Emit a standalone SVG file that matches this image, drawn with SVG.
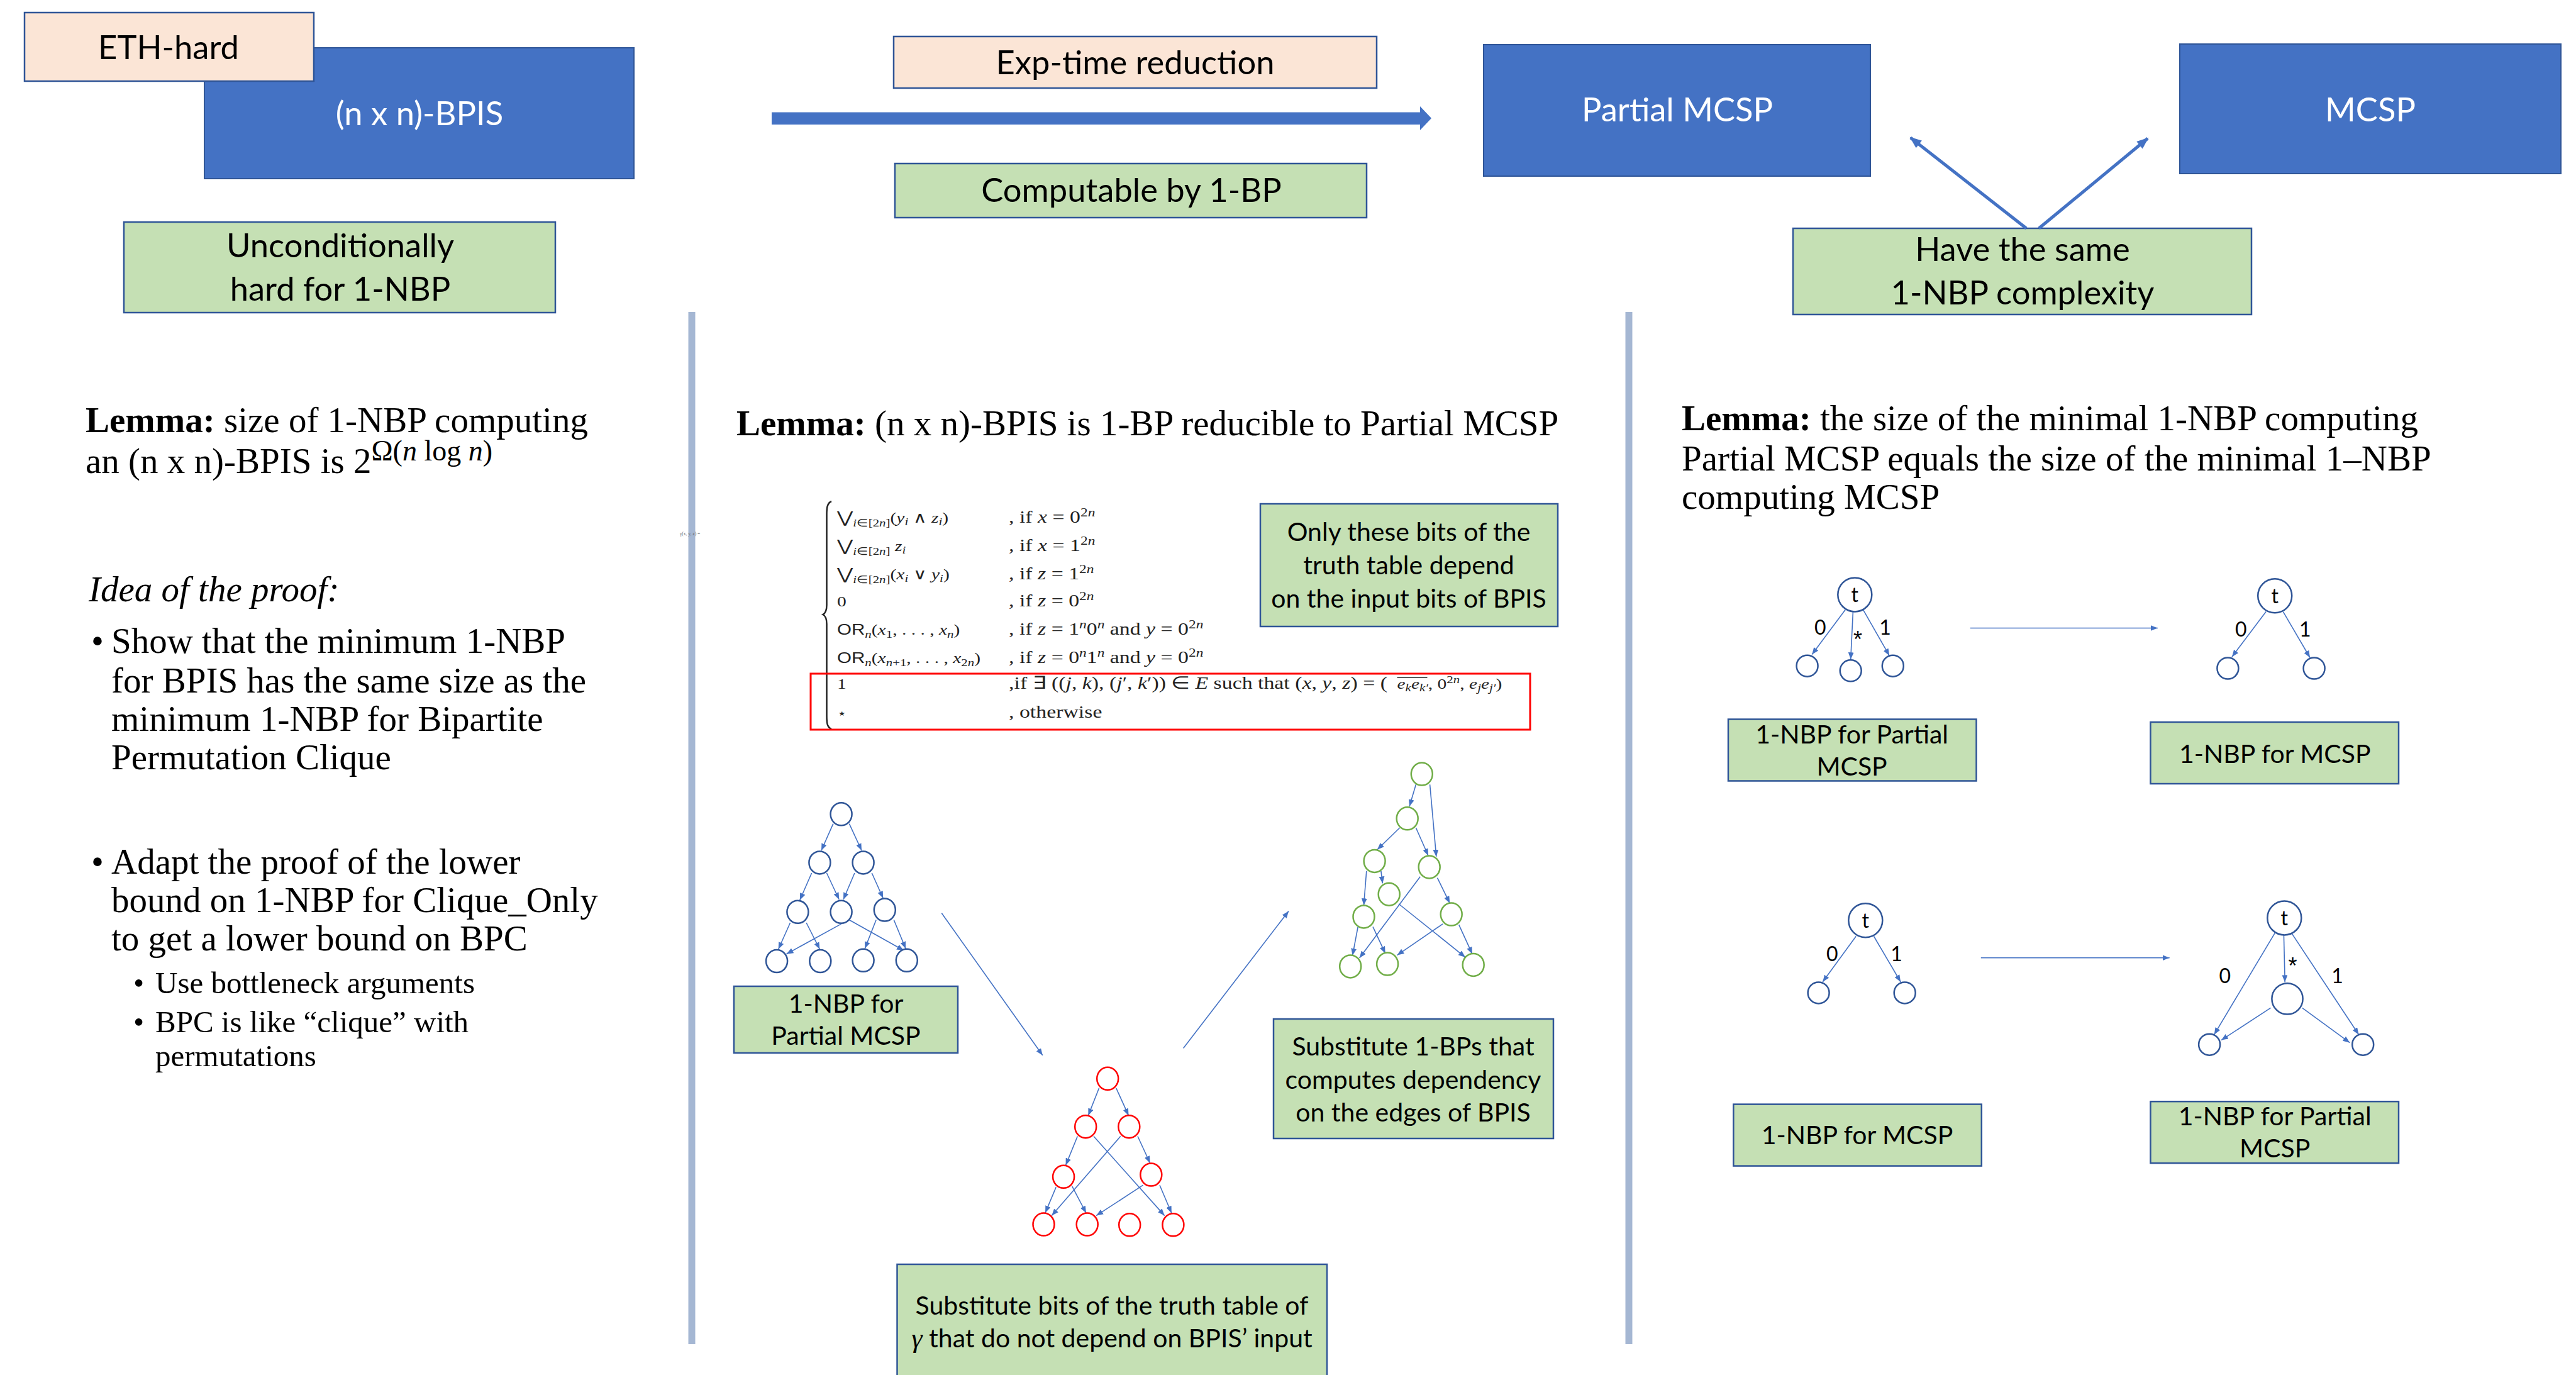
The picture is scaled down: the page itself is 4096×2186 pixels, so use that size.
<svg xmlns="http://www.w3.org/2000/svg" width="4096" height="2186" viewBox="0 0 4096 2186">
<style>
.bg{fill:#C5E0B4;stroke:#2F5597;stroke-width:2.5}
.bp{fill:#FBE5D6;stroke:#2F5597;stroke-width:2.5}
.bb{fill:#4472C4;stroke:#2F5597;stroke-width:2}
.lb{font-family:Lato,'Open Sans',sans-serif;fill:#000;text-anchor:middle}
.big{font-size:52.5px}
.sm{font-size:41px}
.wt{fill:#fff}
.tnr{font-family:'Liberation Serif','Times New Roman',serif;font-size:57px;fill:#000}
.tnrs{font-family:'Liberation Serif','Times New Roman',serif;font-size:49px;fill:#000}
.e{stroke:#4472C4;stroke-width:1.6;fill:none;marker-end:url(#ah)}
.nb{fill:#fff;stroke:#2F5597;stroke-width:2.5}
.nr{fill:#fff;stroke:#FF0000;stroke-width:2.5}
.ng{fill:#fff;stroke:#70AD47;stroke-width:2.5}
.nl{font-family:Lato,'Open Sans',sans-serif;font-size:32px;fill:#000;text-anchor:middle}
.ast{font-family:'Liberation Sans',sans-serif;font-size:36px;fill:#000;text-anchor:middle}
.it{font-style:italic}
.sb{font-size:17px}
.sc{font-size:19px}
.cond{font-size:27.5px}
.vee{font-family:'DejaVu Sans',sans-serif;font-size:25px}
.sf{font-family:'Liberation Sans',sans-serif}
.sep{stroke:#A5B7D3;stroke-width:11}
</style>
<defs>
<marker id="ah" viewBox="0 0 10 8" refX="10" refY="4" markerWidth="11" markerHeight="9" markerUnits="userSpaceOnUse" orient="auto"><path d="M0,0 L10,4 L0,8 z" fill="#4472C4"/></marker>
<marker id="ahB" viewBox="0 0 10 8" refX="9" refY="4" markerWidth="24" markerHeight="15" markerUnits="userSpaceOnUse" orient="auto"><path d="M0,0 L10,4 L0,8 z" fill="#4472C4"/></marker>
</defs>
<rect width="4096" height="2186" fill="#fff"/>

<!-- separators -->
<line class="sep" x1="1100" y1="496" x2="1100" y2="2137"/>
<line class="sep" x1="2590" y1="496" x2="2590" y2="2137"/>
<text x="1081" y="851" font-family="Liberation Serif,serif" font-size="7.5" fill="#666">γ(x, y, z) =</text>

<!-- top row -->
<g id="bpis"><rect class="bb" x="325" y="76" width="683" height="208"/><text class="lb big wt" x="667" y="199">(n x n)-BPIS</text></g>
<g id="eth"><rect class="bp" x="39" y="20" width="460" height="109"/><text class="lb big" x="268" y="94">ETH-hard</text></g>
<g id="uncond"><rect class="bg" x="197" y="353" width="686" height="144"/><text class="lb big" x="541" y="409">Unconditionally</text><text class="lb big" x="541" y="478">hard for 1-NBP</text></g>
<g id="exptime"><rect class="bp" x="1421" y="58" width="768" height="82"/><text class="lb big" x="1805" y="118">Exp-time reduction</text></g>
<g id="computable"><rect class="bg" x="1423" y="260" width="750" height="86"/><text class="lb big" x="1799" y="321">Computable by 1-BP</text></g>
<g id="pmcsp"><rect class="bb" x="2359" y="71" width="615" height="209"/><text class="lb big wt" x="2667" y="193">Partial MCSP</text></g>
<g id="mcsp"><rect class="bb" x="3466" y="70" width="606" height="206"/><text class="lb big wt" x="3769" y="193">MCSP</text></g>
<g id="same"><rect class="bg" x="2851" y="363" width="729" height="137"/><text class="lb big" x="3216" y="415">Have the same</text><text class="lb big" x="3216" y="484">1-NBP complexity</text></g>

<g id="connectors">
<polygon points="1227,178.5 2258,178.5 2258,169 2276,188 2258,207 2258,198 1227,198" fill="#4472C4"/>
<line x1="3222" y1="363" x2="3038" y2="219" stroke="#4472C4" stroke-width="5" marker-end="url(#ahB)"/>
<line x1="3242" y1="363" x2="3415" y2="220" stroke="#4472C4" stroke-width="5" marker-end="url(#ahB)"/>
<!-- middle between trees -->
<line class="e" x1="1497.3" y1="1451.7" x2="1657.8" y2="1677.8"/>
<line class="e" x1="1881.6" y1="1666.4" x2="2049" y2="1448.5"/>
<!-- tree 1 blue -->
<line class="e" x1="1324.8" y1="1309.6" x2="1306" y2="1352"/>
<line class="e" x1="1350.4" y1="1309.6" x2="1370" y2="1352"/>
<line class="e" x1="1290.6" y1="1388" x2="1271.8" y2="1431"/>
<line class="e" x1="1314.5" y1="1388" x2="1334.2" y2="1430"/>
<line class="e" x1="1358.9" y1="1388" x2="1341" y2="1430"/>
<line class="e" x1="1386.3" y1="1388" x2="1404.2" y2="1428"/>
<line class="e" x1="1256.5" y1="1467" x2="1237.7" y2="1509"/>
<line class="e" x1="1282.1" y1="1467" x2="1303.4" y2="1509"/>
<line class="e" x1="1337.6" y1="1468.9" x2="1250.5" y2="1516.7"/>
<line class="e" x1="1350.4" y1="1462.5" x2="1437" y2="1511"/>
<line class="e" x1="1393.1" y1="1462.5" x2="1375.2" y2="1508"/>
<line class="e" x1="1421.3" y1="1462.5" x2="1440.1" y2="1508"/>
<!-- red tree -->
<line class="e" x1="1747.5" y1="1730" x2="1730.4" y2="1773.4"/>
<line class="e" x1="1774.8" y1="1730" x2="1794.5" y2="1773.4"/>
<line class="e" x1="1713.3" y1="1806.5" x2="1694.6" y2="1852.4"/>
<line class="e" x1="1739" y1="1806.5" x2="1851.7" y2="1932.6"/>
<line class="e" x1="1809" y1="1806.5" x2="1828.6" y2="1849"/>
<line class="e" x1="1781.7" y1="1806.5" x2="1672.3" y2="1932.6"/>
<line class="e" x1="1679.2" y1="1887.4" x2="1662.1" y2="1928"/>
<line class="e" x1="1704.8" y1="1886.1" x2="1727" y2="1928.5"/>
<line class="e" x1="1817.5" y1="1884.2" x2="1743.2" y2="1932.6"/>
<line class="e" x1="1844" y1="1884.2" x2="1862.8" y2="1928.5"/>
<!-- green tree -->
<line class="e" x1="2251.4" y1="1247.2" x2="2241.1" y2="1282"/>
<line class="e" x1="2273.6" y1="1247.2" x2="2283.8" y2="1361.9"/>
<line class="e" x1="2225.7" y1="1316" x2="2189.9" y2="1350.8"/>
<line class="e" x1="2251.4" y1="1316" x2="2271" y2="1360.3"/>
<line class="e" x1="2195.9" y1="1384.8" x2="2198.4" y2="1404.4"/>
<line class="e" x1="2172.8" y1="1384.8" x2="2168.5" y2="1439.3"/>
<line class="e" x1="2285.5" y1="1395.6" x2="2305.2" y2="1435.8"/>
<line class="e" x1="2258.2" y1="1393.7" x2="2161.7" y2="1523"/>
<line class="e" x1="2224" y1="1437" x2="2329.9" y2="1521.8"/>
<line class="e" x1="2159.1" y1="1474" x2="2150.6" y2="1518.9"/>
<line class="e" x1="2183" y1="1473.3" x2="2202.7" y2="1515.7"/>
<line class="e" x1="2294.1" y1="1468.9" x2="2221.5" y2="1518.6"/>
<line class="e" x1="2319.7" y1="1470.2" x2="2341" y2="1516.7"/>
<!-- right panel -->
<line class="e" x1="3132.8" y1="998.5" x2="3430.8" y2="998.5"/>
<line class="e" x1="3149.8" y1="1522.7" x2="3449.7" y2="1522.7"/>
<line class="e" x1="2934.1" y1="969.4" x2="2881.2" y2="1040.4"/>
<line class="e" x1="2946.4" y1="972.6" x2="2942.7" y2="1048.3"/>
<line class="e" x1="2962.5" y1="969.4" x2="3004.2" y2="1042.3"/>
<line class="e" x1="3603" y1="972.6" x2="3549" y2="1044.2"/>
<line class="e" x1="3630.4" y1="972.6" x2="3673" y2="1045.5"/>
<line class="e" x1="2951.2" y1="1488.5" x2="2898.2" y2="1561"/>
<line class="e" x1="2979.5" y1="1488.5" x2="3022.1" y2="1561"/>
<line class="e" x1="3617.2" y1="1483.4" x2="3520.7" y2="1644.8"/>
<line class="e" x1="3631.4" y1="1486.6" x2="3633.2" y2="1561.4"/>
<line class="e" x1="3643.7" y1="1483.4" x2="3750.5" y2="1644.8"/>
<line class="e" x1="3610.5" y1="1602.4" x2="3532" y2="1653.6"/>
<line class="e" x1="3660.7" y1="1602.4" x2="3736.3" y2="1657.7"/>
</g>

<!-- left text -->
<g id="left-text">
<text class="tnr" x="136" y="687"><tspan font-weight="bold">Lemma:</tspan> size of 1-NBP computing</text>
<text class="tnr" x="136" y="752">an (n x n)-BPIS is 2<tspan font-size="46" dy="-20">Ω(<tspan class="it">n</tspan> log <tspan class="it">n</tspan>)</tspan></text>
<text class="tnr it" x="141" y="956">Idea of the proof:</text>
<text class="tnr" x="145" y="1038">•</text>
<text class="tnr" x="177" y="1038">Show that the minimum 1-NBP</text>
<text class="tnr" x="177" y="1101">for BPIS has the same size as the</text>
<text class="tnr" x="177" y="1162">minimum 1-NBP for Bipartite</text>
<text class="tnr" x="177" y="1223">Permutation Clique</text>
<text class="tnr" x="145" y="1389">•</text>
<text class="tnr" x="177" y="1389">Adapt the proof of the lower</text>
<text class="tnr" x="177" y="1450">bound on 1-NBP for Clique_Only</text>
<text class="tnr" x="177" y="1511">to get a lower bound on BPC</text>
<text class="tnrs" x="212" y="1579">•</text>
<text class="tnrs" x="247" y="1579">Use bottleneck arguments</text>
<text class="tnrs" x="212" y="1641">•</text>
<text class="tnrs" x="247" y="1641">BPC is like “clique” with</text>
<text class="tnrs" x="247" y="1695">permutations</text>
</g>

<!-- middle lemma -->
<text id="mid-lemma" class="tnr" x="1171" y="692"><tspan font-weight="bold">Lemma:</tspan> (n x n)-BPIS is 1-BP reducible to Partial MCSP</text>

<!-- formula -->
<g id="formula">
<path d="M1322,797 C1315,800 1314.5,808 1314.5,818 L1314.5,962 C1314.5,971 1312.5,975 1308.5,977 C1312.5,979 1314.5,983 1314.5,992 L1314.5,1138 C1314.5,1149 1315,1156 1322,1159" fill="none" stroke="#222" stroke-width="2.5"/>
<g transform="translate(1331 0) scale(1.23 1)" font-family="'Liberation Serif',serif" font-size="24" fill="#222">
<text x="0" y="831"><tspan class="vee">⋁</tspan><tspan class="sb" dy="6"><tspan class="it">i</tspan>∈[2<tspan class="it">n</tspan>]</tspan><tspan dy="-6">(</tspan><tspan class="it">y</tspan><tspan class="sb it" dy="4">i</tspan><tspan dy="-4"> ∧ </tspan><tspan class="it">z</tspan><tspan class="sb it" dy="4">i</tspan><tspan dy="-4">)</tspan></text>
<text class="cond" x="222" y="831">,  if <tspan class="it">x</tspan> = 0<tspan class="sc" dy="-10">2<tspan class="it">n</tspan></tspan></text>
<text x="0" y="876"><tspan class="vee">⋁</tspan><tspan class="sb" dy="6"><tspan class="it">i</tspan>∈[2<tspan class="it">n</tspan>]</tspan><tspan dy="-6"> </tspan><tspan class="it">z</tspan><tspan class="sb it" dy="4">i</tspan></text>
<text class="cond" x="222" y="876">,  if <tspan class="it">x</tspan> = 1<tspan class="sc" dy="-10">2<tspan class="it">n</tspan></tspan></text>
<text x="0" y="921"><tspan class="vee">⋁</tspan><tspan class="sb" dy="6"><tspan class="it">i</tspan>∈[2<tspan class="it">n</tspan>]</tspan><tspan dy="-6">(</tspan><tspan class="it">x</tspan><tspan class="sb it" dy="4">i</tspan><tspan dy="-4"> ∨ </tspan><tspan class="it">y</tspan><tspan class="sb it" dy="4">i</tspan><tspan dy="-4">)</tspan></text>
<text class="cond" x="222" y="921">,  if <tspan class="it">z</tspan> = 1<tspan class="sc" dy="-10">2<tspan class="it">n</tspan></tspan></text>
<text x="0" y="964">0</text>
<text class="cond" x="222" y="964">,  if <tspan class="it">z</tspan> = 0<tspan class="sc" dy="-10">2<tspan class="it">n</tspan></tspan></text>
<text x="0" y="1009"><tspan class="sf">OR</tspan><tspan class="sb it" dy="5">n</tspan><tspan dy="-5">(</tspan><tspan class="it">x</tspan><tspan class="sb" dy="5">1</tspan><tspan dy="-5">, . . . , </tspan><tspan class="it">x</tspan><tspan class="sb it" dy="5">n</tspan><tspan dy="-5">)</tspan></text>
<text class="cond" x="222" y="1009">,  if <tspan class="it">z</tspan> = 1<tspan class="sc it" dy="-10">n</tspan><tspan dy="10">0</tspan><tspan class="sc it" dy="-10">n</tspan><tspan dy="10"> and </tspan><tspan class="it">y</tspan> = 0<tspan class="sc" dy="-10">2<tspan class="it">n</tspan></tspan></text>
<text x="0" y="1054"><tspan class="sf">OR</tspan><tspan class="sb it" dy="5">n</tspan><tspan dy="-5">(</tspan><tspan class="it">x</tspan><tspan class="sb" dy="5"><tspan class="it">n</tspan>+1</tspan><tspan dy="-5">, . . . , </tspan><tspan class="it">x</tspan><tspan class="sb" dy="5">2<tspan class="it">n</tspan></tspan><tspan dy="-5">)</tspan></text>
<text class="cond" x="222" y="1054">,  if <tspan class="it">z</tspan> = 0<tspan class="sc it" dy="-10">n</tspan><tspan dy="10">1</tspan><tspan class="sc it" dy="-10">n</tspan><tspan dy="10"> and </tspan><tspan class="it">y</tspan> = 0<tspan class="sc" dy="-10">2<tspan class="it">n</tspan></tspan></text>
<text x="0" y="1095">1</text>
<text class="cond" x="222" y="1095">,if ∃ ((<tspan class="it">j</tspan>, <tspan class="it">k</tspan>), (<tspan class="it">j</tspan>′, <tspan class="it">k</tspan>′)) ∈ <tspan class="it">E</tspan> such that (<tspan class="it">x</tspan>, <tspan class="it">y</tspan>, <tspan class="it">z</tspan>) = (</text>
<text x="724" y="1095"><tspan class="it">e</tspan><tspan class="sb it" dy="4">k</tspan><tspan class="it" dy="-4">e</tspan><tspan class="sb it" dy="4">k′</tspan><tspan dy="-4">, 0</tspan><tspan class="sb" dy="-9">2<tspan class="it">n</tspan></tspan><tspan dy="9">, </tspan><tspan class="it">e</tspan><tspan class="sb it" dy="4">j</tspan><tspan class="it" dy="-4">e</tspan><tspan class="sb it" dy="4">j′</tspan><tspan dy="-4">)</tspan></text>
<line x1="724" y1="1077" x2="763" y2="1077" stroke="#222" stroke-width="1.5"/>
<text x="0" y="1141" font-family="'DejaVu Sans',sans-serif" font-size="20">⋆</text>
<text class="cond" x="222" y="1141">,  otherwise</text>
</g>
<rect x="1289" y="1071" width="1144" height="89" fill="none" stroke="#FF0000" stroke-width="3"/>
</g>

<g id="onlybits"><rect class="bg" x="2004" y="801" width="473" height="195"/><text class="lb sm" x="2240" y="860">Only these bits of the</text><text class="lb sm" x="2240" y="913">truth table depend</text><text class="lb sm" x="2240" y="966">on the input bits of BPIS</text></g>

<!-- blue tree -->
<g id="tree-blue">
<ellipse id="b0" class="nb" cx="1337.6" cy="1294.3" rx="17" ry="18"/>
<ellipse id="b1" class="nb" cx="1303.4" cy="1371.4" rx="17" ry="18"/>
<ellipse id="b2" class="nb" cx="1372.6" cy="1371.4" rx="17" ry="18"/>
<ellipse id="b3" class="nb" cx="1268.4" cy="1449.8" rx="17" ry="18"/>
<ellipse id="b4" class="nb" cx="1337.6" cy="1449.8" rx="17" ry="18"/>
<ellipse id="b5" class="nb" cx="1406.8" cy="1446.6" rx="17" ry="18"/>
<ellipse id="b6" class="nb" cx="1235.1" cy="1528.1" rx="17" ry="18"/>
<ellipse id="b7" class="nb" cx="1304.3" cy="1528.1" rx="17" ry="18"/>
<ellipse id="b8" class="nb" cx="1372.6" cy="1526.8" rx="17" ry="18"/>
<ellipse id="b9" class="nb" cx="1441.8" cy="1526.8" rx="17" ry="18"/>
</g>
<g id="lbl-nbp-pmcsp"><rect class="bg" x="1167" y="1568" width="356" height="106"/><text class="lb sm" x="1345" y="1610">1-NBP for</text><text class="lb sm" x="1345" y="1661">Partial MCSP</text></g>

<!-- red tree -->
<g id="tree-red">
<ellipse id="r0" class="nr" cx="1761.2" cy="1714.8" rx="17" ry="18"/>
<ellipse id="r1" class="nr" cx="1726.2" cy="1791.2" rx="17" ry="18"/>
<ellipse id="r2" class="nr" cx="1795.3" cy="1791.2" rx="17" ry="18"/>
<ellipse id="r3" class="nr" cx="1691.1" cy="1870.8" rx="17" ry="18"/>
<ellipse id="r4" class="nr" cx="1830.3" cy="1867.6" rx="17" ry="18"/>
<ellipse id="r5" class="nr" cx="1659.5" cy="1946.6" rx="17" ry="18"/>
<ellipse id="r6" class="nr" cx="1728.7" cy="1946.6" rx="17" ry="18"/>
<ellipse id="r7" class="nr" cx="1796.2" cy="1947.3" rx="17" ry="18"/>
<ellipse id="r8" class="nr" cx="1865.4" cy="1947.3" rx="17" ry="18"/>
</g>
<g id="lbl-subst-bits"><rect class="bg" x="1426.5" y="2010" width="683.5" height="200"/><text class="lb sm" x="1768" y="2090">Substitute bits of the truth table of</text><text class="lb sm" x="1768" y="2142"><tspan font-family="'Liberation Serif',serif" font-style="italic" font-size="44">γ</tspan> that do not depend on BPIS’ input</text></g>

<!-- green tree -->
<g id="tree-green">
<ellipse id="g0" class="ng" cx="2260.8" cy="1230.6" rx="17" ry="18"/>
<ellipse id="g1" class="ng" cx="2237.7" cy="1301.3" rx="17" ry="18"/>
<ellipse id="g2" class="ng" cx="2185.6" cy="1368.9" rx="17" ry="18"/>
<ellipse id="g3" class="ng" cx="2272.7" cy="1378.4" rx="17" ry="18"/>
<ellipse id="g4" class="ng" cx="2208.7" cy="1421.7" rx="17" ry="18"/>
<ellipse id="g5" class="ng" cx="2168.5" cy="1457.4" rx="17" ry="18"/>
<ellipse id="g6" class="ng" cx="2307.7" cy="1453.6" rx="17" ry="18"/>
<ellipse id="g7" class="ng" cx="2147.2" cy="1536.4" rx="17" ry="18"/>
<ellipse id="g8" class="ng" cx="2206.1" cy="1532.6" rx="17" ry="18"/>
<ellipse id="g9" class="ng" cx="2342.7" cy="1533.9" rx="17" ry="18"/>
</g>
<g id="lbl-subst-bps"><rect class="bg" x="2025" y="1620" width="445" height="190"/><text class="lb sm" x="2247" y="1678">Substitute 1-BPs that</text><text class="lb sm" x="2247" y="1731">computes dependency</text><text class="lb sm" x="2247" y="1783">on the edges of BPIS</text></g>

<!-- right lemma -->
<g id="right-lemma">
<text class="tnr" x="2674" y="684"><tspan font-weight="bold">Lemma:</tspan> the size of the minimal 1-NBP computing</text>
<text class="tnr" x="2674" y="748">Partial MCSP equals the size of the minimal 1–NBP</text>
<text class="tnr" x="2674" y="809">computing MCSP</text>
</g>

<!-- right trees -->
<g id="rt-tl">
<ellipse class="nb" cx="2949.3" cy="945.4" rx="27" ry="27"/><text class="nl" x="2949.3" y="957" font-size="38">t</text>
<ellipse class="nb" cx="2873.6" cy="1058.7" rx="17" ry="17"/>
<ellipse class="nb" cx="2942.7" cy="1066.3" rx="17" ry="17"/>
<ellipse class="nb" cx="3009.8" cy="1058.7" rx="17" ry="17"/>
<text class="nl" x="2894.4" y="1009">0</text><text class="ast" x="2954" y="1029">*</text><text class="nl" x="2997.5" y="1009">1</text>
</g>
<g id="rt-tr">
<ellipse class="nb" cx="3617.2" cy="947.3" rx="27" ry="27"/><text class="nl" x="3617.2" y="959" font-size="38">t</text>
<ellipse class="nb" cx="3542.4" cy="1062.5" rx="17" ry="17"/>
<ellipse class="nb" cx="3679.6" cy="1062.5" rx="17" ry="17"/>
<text class="nl" x="3563.2" y="1011.5">0</text><text class="nl" x="3665.4" y="1011.5">1</text>
</g>
<g id="rt-bl">
<ellipse class="nb" cx="2966.3" cy="1463.2" rx="27" ry="27"/><text class="nl" x="2966.3" y="1475" font-size="38">t</text>
<ellipse class="nb" cx="2891.6" cy="1578.4" rx="17" ry="17"/>
<ellipse class="nb" cx="3028.7" cy="1578.4" rx="17" ry="17"/>
<text class="nl" x="2913.3" y="1527.5">0</text><text class="nl" x="3015.5" y="1527.5">1</text>
</g>
<g id="rt-br">
<ellipse class="nb" cx="3632.3" cy="1459.4" rx="27" ry="27"/><text class="nl" x="3632.3" y="1471" font-size="38">t</text>
<ellipse class="nb" cx="3637" cy="1587.9" rx="24.6" ry="24.7"/>
<ellipse class="nb" cx="3513.1" cy="1660.7" rx="17" ry="17"/>
<ellipse class="nb" cx="3757.2" cy="1660.7" rx="17" ry="17"/>
<text class="nl" x="3537.7" y="1563">0</text><text class="ast" x="3645.5" y="1548">*</text><text class="nl" x="3716.5" y="1563">1</text>
</g>
<g id="lbl-tl"><rect class="bg" x="2748" y="1143.5" width="394.5" height="98"/><text class="lb sm" x="2944.6" y="1181.5">1-NBP for Partial</text><text class="lb sm" x="2944.6" y="1233.4">MCSP</text></g>
<g id="lbl-tr"><rect class="bg" x="3419.4" y="1148" width="394.6" height="98"/><text class="lb sm" x="3617.2" y="1212.5">1-NBP for MCSP</text></g>
<g id="lbl-bl"><rect class="bg" x="2756.3" y="1755.6" width="394.5" height="98"/><text class="lb sm" x="2953" y="1819">1-NBP for MCSP</text></g>
<g id="lbl-br"><rect class="bg" x="3419.4" y="1751.2" width="394.6" height="98"/><text class="lb sm" x="3617.2" y="1789.2">1-NBP for Partial</text><text class="lb sm" x="3617.2" y="1839.8">MCSP</text></g>
</svg>
